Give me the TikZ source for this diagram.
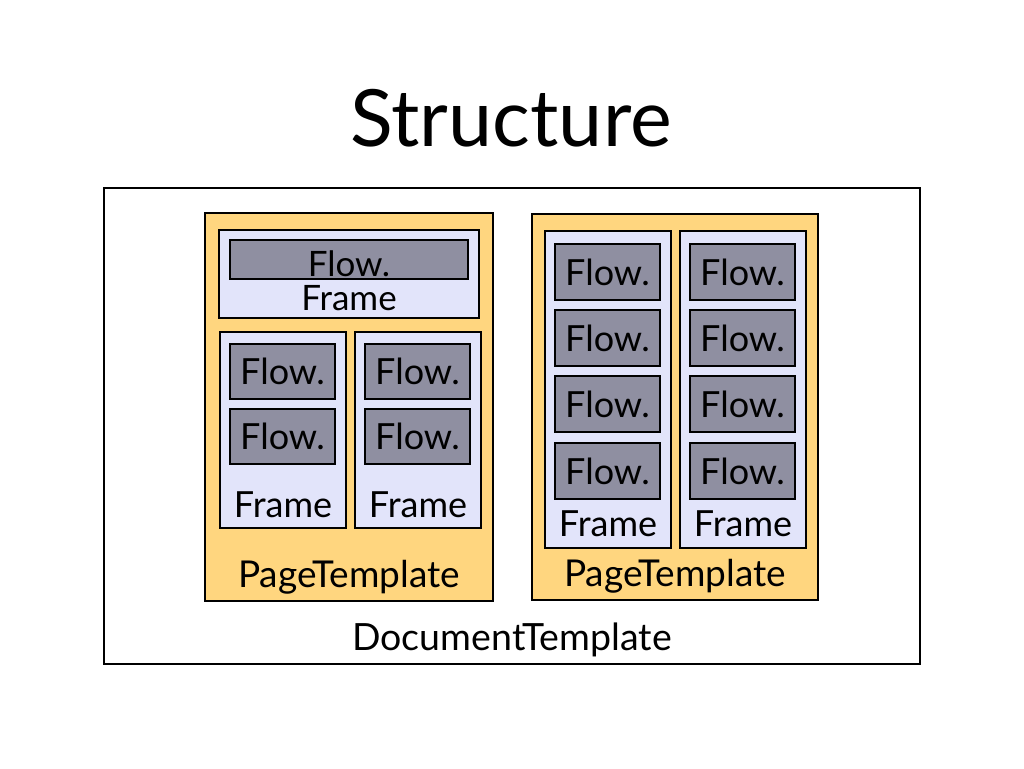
\documentclass[tikz,border=0pt]{standalone}
\usepackage{fontspec}
\setmainfont{Lato}
\usetikzlibrary{positioning}
\definecolor{pagefill}{HTML}{FFD67F}
\definecolor{framefill}{HTML}{E2E4FA}
\definecolor{flowfill}{HTML}{8F8FA1}
\begin{document}
\begin{tikzpicture}[x=1pt,y=-1pt,
  box/.style={draw,line width=1.8pt,inner sep=0pt,outer sep=0pt,anchor=north west},
  pagebox/.style={box,fill=pagefill},
  framebox/.style={box,fill=framefill},
  flowbox/.style={box,fill=flowfill,minimum width=105pt,minimum height=55pt,font=\fontsize{36}{36}\selectfont},
  lbl/.style={font=\fontsize{36}{36}\selectfont,inner sep=0pt}]
\useasboundingbox (0,0) rectangle (1024,768);
\node[font=\fontsize{79}{79}\selectfont,inner sep=0pt] (title) at (511,118) {Structure};
\node[box,line width=1.5pt,minimum width=816pt,minimum height=476pt] (doc) at (104,188) {};
\node[lbl,font=\fontsize{37.5}{37.5}\selectfont] (doclbl) at (512,640) {DocumentTemplate};

% left page
\node[pagebox,minimum width=288pt,minimum height=388pt] (pl) at (205,213) {};
\node[lbl,font=\fontsize{37}{37}\selectfont] (pllbl) at (349,577) {PageTemplate};
\node[framebox,minimum width=260pt,minimum height=88pt] (ft) at (219,230) {};
\node[flowbox,minimum width=238pt,minimum height=39pt] (ftflow) at (230,240) {};
\node[lbl,font=\fontsize{35}{35}\selectfont] (ftflowlbl) at (349,264) {Flow.};
\node[lbl,font=\fontsize{35}{35}\selectfont] (ftlbl) at (349,298) {Frame};
\foreach \n/\x in {a/220,b/355}{
  \node[framebox,minimum width=126pt,minimum height=196pt] (f\n) at (\x,332) {};
  \node[lbl] (f\n lbl) at (\x+63,505) {Frame};
  \foreach \y [count=\i] in {344,409}
    \node[flowbox] (f\n\i) at (\x+10,\y) {Flow.};
}

% right page
\node[pagebox,minimum width=286pt,minimum height=386pt] (pr) at (532,214) {};
\node[lbl,font=\fontsize{37}{37}\selectfont] (prlbl) at (675,576) {PageTemplate};
\foreach \n/\x in {c/545,d/680}{
  \node[framebox,minimum width=126pt,minimum height=317pt] (f\n) at (\x,231) {};
  \node[lbl] (f\n lbl) at (\x+63,524) {Frame};
  \foreach \y [count=\i] in {244,310,376,443}
    \node[flowbox,minimum height=56pt] (f\n\i) at (\x+10,\y) {Flow.};
}
\end{tikzpicture}
\end{document}
